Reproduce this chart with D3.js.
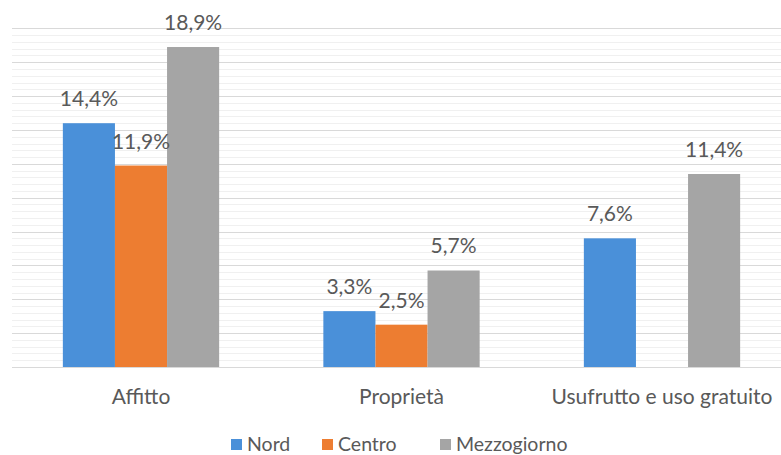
<!DOCTYPE html>
<html><head><meta charset="utf-8">
<script src="https://cdn.jsdelivr.net/npm/d3@7"></script>
<style>body{margin:0;background:#fff}svg{display:block}</style>
</head><body>
<svg id="c" width="781" height="455"></svg>
<script>
const categories = ["Affitto", "Proprietà", "Usufrutto e uso gratuito"];
const seriesNames = ["Nord", "Centro", "Mezzogiorno"];
const nord = [14.4, 3.3, 7.6];
const centro = [11.9, 2.5, null];
const mezzogiorno = [18.9, 5.7, 11.4];
const colors = ["#4a90d9", "#ed7d31", "#a5a5a5"];
const values = [nord, centro, mezzogiorno];

const svg = d3.select("#c");
const font = "Lato, 'Open Sans', sans-serif";
const x0 = d3.scaleBand().domain(categories).range([10.75, 792.25]).paddingInner(0).paddingOuter(0);
const x1 = d3.scaleBand().domain(seriesNames).range([0, x0.bandwidth()]).paddingInner(0).paddingOuter(1.0);
const y = d3.scaleLinear().domain([0, 20]).range([367, 28.4]);

// minor grid
svg.append("g").selectAll("line").data(d3.range(0, 20.001, 0.4))
  .join("line").attr("x1", 12).attr("x2", 781)
  .attr("y1", d => Math.round(y(d)) + 0.5).attr("y2", d => Math.round(y(d)) + 0.5)
  .attr("stroke", "#f0f0f0").attr("stroke-width", 1);
// major grid
svg.append("g").selectAll("line").data(d3.range(0, 20.001, 2))
  .join("line").attr("x1", 12).attr("x2", 781)
  .attr("y1", d => Math.round(y(d)) + 0.5).attr("y2", d => Math.round(y(d)) + 0.5)
  .attr("stroke", "#d9d9d9").attr("stroke-width", 1.2);

const data = [];
categories.forEach((c, i) => seriesNames.forEach((s, j) => {
  if (values[j][i] != null) data.push({c, s, v: values[j][i], col: colors[j]});
}));

svg.append("g").selectAll("rect").data(data).join("rect")
  .attr("x", d => x0(d.c) + x1(d.s))
  .attr("width", x1.bandwidth())
  .attr("y", d => y(d.v))
  .attr("height", d => y(0) - y(d.v))
  .attr("fill", d => d.col);

svg.append("g").selectAll("text").data(data).join("text")
  .attr("x", d => x0(d.c) + x1(d.s) + x1.bandwidth() / 2)
  .attr("y", d => y(d.v) - 17)
  .attr("text-anchor", "middle")
  .attr("font-family", font).attr("font-size", 21).attr("fill", "#595959")
  .text(d => d.v.toFixed(1).replace(".", ",") + "%");

// x axis labels
const xa = svg.append("g").attr("transform", "translate(0,367)")
  .call(d3.axisBottom(x0).tickSize(0).tickPadding(22));
xa.select(".domain").remove();
xa.selectAll("text").attr("font-family", font).attr("font-size", 21).attr("fill", "#595959");

// legend
const legSq = [231, 322, 440];
const leg = svg.append("g");
seriesNames.forEach((s, j) => {
  leg.append("rect").attr("x", legSq[j]).attr("y", 439).attr("width", 11).attr("height", 11).attr("fill", colors[j]);
  leg.append("text").attr("x", legSq[j] + 16).attr("y", 451)
    .attr("font-family", font).attr("font-size", 19.5).attr("fill", "#595959").text(s);
});
</script>
</body></html>
